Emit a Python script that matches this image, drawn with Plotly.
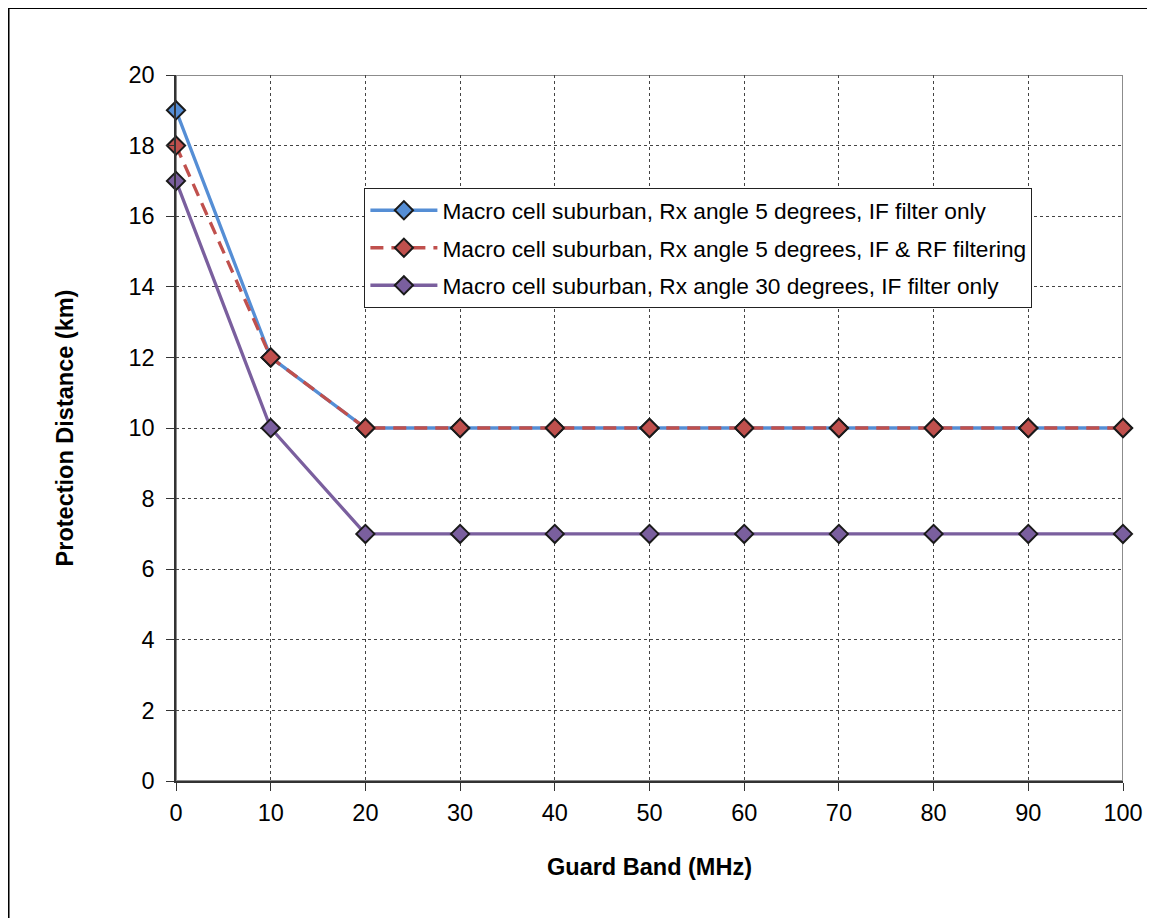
import plotly.graph_objects as go

guard_band = [0, 10, 20, 30, 40, 50, 60, 70, 80, 90, 100]
s1_name = "Macro cell suburban, Rx angle 5 degrees, IF filter only"
s1_vals = [19, 12, 10, 10, 10, 10, 10, 10, 10, 10, 10]
s2_name = "Macro cell suburban, Rx angle 5 degrees, IF & RF filtering"
s2_vals = [18, 12, 10, 10, 10, 10, 10, 10, 10, 10, 10]
s3_name = "Macro cell suburban, Rx angle 30 degrees, IF filter only"
s3_vals = [17, 10, 7, 7, 7, 7, 7, 7, 7, 7, 7]

FONT = "Liberation Sans, Arial, sans-serif"

W, H = 1147, 910
L, R, T, B = 168, 29, 67, 137
PW, PH = W - L - R, H - T - B

fig = go.Figure()

def add(name, vals, color, dash, grp):
    fig.add_trace(go.Scatter(
        x=guard_band, y=vals, name=name, mode="lines+markers",
        legendgroup=grp,
        line=dict(color=color, width=3.3, dash=dash),
        marker=dict(symbol="diamond", size=14, color=color,
                    line=dict(color="#1a1a1a", width=2)),
        cliponaxis=False,
    ))

add(s1_name, s1_vals, "#558ED5", "solid", "a")
add(s2_name, s2_vals, "#C0504D", "13px,8px", "b")
add(s3_name, s3_vals, "#7A5F9E", "solid", "c")

grid = dict(showgrid=True, gridcolor="#444444", griddash="dot", gridwidth=1)

def px_x(px):  # figure pixel -> paper
    return (px - L) / PW

def px_y(py):
    return (H - B - py) / PH

fig.update_layout(
    width=W, height=H,
    margin=dict(l=L, r=R, t=T, b=B),
    paper_bgcolor="white", plot_bgcolor="white",
    font=dict(family=FONT, size=23.5, color="black"),
    showlegend=True,
    legend=dict(
        x=px_x(357), y=px_y(180), xanchor="left", yanchor="top",
        bgcolor="white", bordercolor="#222222", borderwidth=1,
        font=dict(family=FONT, size=22.7, color="black"),
        tracegroupgap=5, traceorder="grouped",
        itemwidth=67,
    ),
    xaxis=dict(
        range=[0, 100], tickvals=guard_band, ticks="outside", ticklen=8,
        tickcolor="#333333", showline=True, linecolor="#333333", linewidth=1.5,
        zeroline=False, tickfont=dict(size=23.5), ticklabelstandoff=2,
        title=dict(text="<b>Guard Band (MHz)</b>", font=dict(size=23.5), standoff=34),
        **grid,
    ),
    yaxis=dict(
        range=[0, 20], dtick=2, ticks="outside", ticklen=8,
        tickcolor="#333333", showline=True, linecolor="#333333", linewidth=1.5,
        zeroline=False, tickfont=dict(size=23.5), ticklabelstandoff=7,
        title=dict(text="<b>Protection Distance (km)</b>", font=dict(size=23.5), standoff=48),
        **grid,
    ),
    shapes=[
        dict(type="rect", xref="x", yref="y", x0=0, x1=100, y0=0, y1=20,
             line=dict(color="#8c8c8c", width=2), layer="below"),
        dict(type="rect", xref="paper", yref="paper",
             x0=px_x(0), x1=px_x(1146),
             y0=px_y(H + 20), y1=px_y(0),
             line=dict(color="black", width=2), layer="below"),
    ],
)

fig.write_html("out.html")
